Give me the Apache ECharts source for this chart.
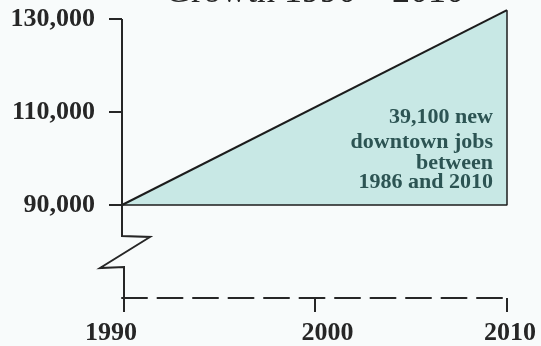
<!DOCTYPE html>
<html>
<head>
<meta charset="utf-8">
<script src="https://cdn.jsdelivr.net/npm/echarts@6/dist/echarts.min.js"></script>
<style>
  html, body { margin: 0; padding: 0; background: #f8fbfb; }
  #chart { width: 541px; height: 346px; }
</style>
</head>
<body>
<div id="chart"></div>
<script>
// Downtown employment, 1990 to 2010
const years = [1990, 2010];
const jobs = [90000, 131900];
const yTicks = [90000, 110000, 130000];
const xTicks = [1990, 2000, 2010];
const noteLines = ['39,100 new', 'downtown jobs', 'between', '1986 and 2010'];
const titleText = 'Growth 1990 \u2013 2010';

const SERIF = '"Liberation Serif", "DejaVu Serif", serif';
const INK = '#262626';
const NOTE_INK = '#2c5453';
const FILL = '#c8e8e5';

// small horizontal nudges for the year labels (hand-set type)
const yearShift = { 1990: -11, 2000: 13, 2010: 3 };

const fmt = v => v.toLocaleString('en-US');

const rich = {};
xTicks.forEach(v => {
  const s = yearShift[v] || 0;
  rich['y' + v] = {
    fontFamily: SERIF, fontWeight: 'bold', fontSize: 26, color: INK,
    padding: s < 0 ? [0, -2 * s, 0, 0] : [0, 0, 0, 2 * s]
  };
});

const chart = echarts.init(document.getElementById('chart'), null, { renderer: 'canvas' });

chart.setOption({
  backgroundColor: '#f8fbfb',
  animation: false,
  grid: { left: 122, right: 34, top: 9.7, bottom: 47 },
  xAxis: {
    type: 'value',
    min: 1990, max: 2010, interval: 10,
    splitLine: { show: false },
    axisLine: { show: true, lineStyle: { color: INK, width: 2, type: [25, 10.5] } },
    // the 1990 tick is the foot of the broken vertical axis
    axisTick: { show: true, inside: false, length: 14, customValues: xTicks.slice(1), lineStyle: { color: INK, width: 2 } },
    axisLabel: {
      margin: 22,
      customValues: xTicks,
      formatter: v => '{y' + v + '|' + v + '}',
      rich: rich
    }
  },
  yAxis: {
    type: 'value',
    min: 70000, max: 132000,
    splitLine: { show: false },
    axisLine: { show: false },
    axisTick: { show: true, customValues: yTicks, length: 13, lineStyle: { color: INK, width: 2 } },
    axisLabel: {
      customValues: yTicks,
      formatter: v => fmt(v),
      margin: 27,
      fontFamily: SERIF, fontWeight: 'bold', fontSize: 26, color: INK
    }
  },
  series: [
    {
      type: 'line',
      data: [[years[0], jobs[0]], [years[1], jobs[1]]],
      symbol: 'none',
      lineStyle: { color: '#1c1c1c', width: 2 },
      areaStyle: { color: FILL, opacity: 1, origin: jobs[0] },
      z: 2
    },
    {
      type: 'line',
      data: [[years[0], jobs[0]], [years[1], jobs[0]], [years[1], jobs[1]]],
      symbol: 'none',
      lineStyle: { color: '#1c1c1c', width: 1.5 },
      z: 3
    }
  ]
});

// broken vertical axis, annotation and clipped heading
const toPx = (x, y) => chart.convertToPixel({ gridIndex: 0 }, [x, y]);
const axisTop = toPx(years[0], yTicks[yTicks.length - 1]);
const p90 = toPx(years[0], yTicks[0]);
const axisBase = toPx(years[0], 70000);
const ax = axisTop[0];
const rightEdge = toPx(years[1], jobs[0])[0];

chart.setOption({
  graphic: [
    {
      type: 'polyline',
      shape: {
        points: [
          [ax, axisTop[1]],
          [ax, p90[1] + 31],
          [ax + 28, p90[1] + 32],
          [ax - 22, p90[1] + 63],
          [ax + 2, p90[1] + 62],
          [ax + 2, axisBase[1] + 14]
        ]
      },
      style: { stroke: INK, lineWidth: 2, fill: null },
      z: 10
    },
    {
      type: 'text',
      x: (ax + rightEdge) / 2, y: -7,
      style: {
        text: titleText, fontFamily: SERIF, fontSize: 36, fill: INK,
        align: 'center', verticalAlign: 'middle'
      },
      z: 10
    }
  ].concat(noteLines.map((t, i) => ({
    type: 'text',
    x: rightEdge - 14,
    y: [117, 142, 163, 182][i],
    style: {
      text: t, fontFamily: SERIF, fontWeight: 'bold', fontSize: 22, fill: NOTE_INK,
      align: 'right', verticalAlign: 'middle'
    },
    z: 10
  })))
});
</script>
</body>
</html>
